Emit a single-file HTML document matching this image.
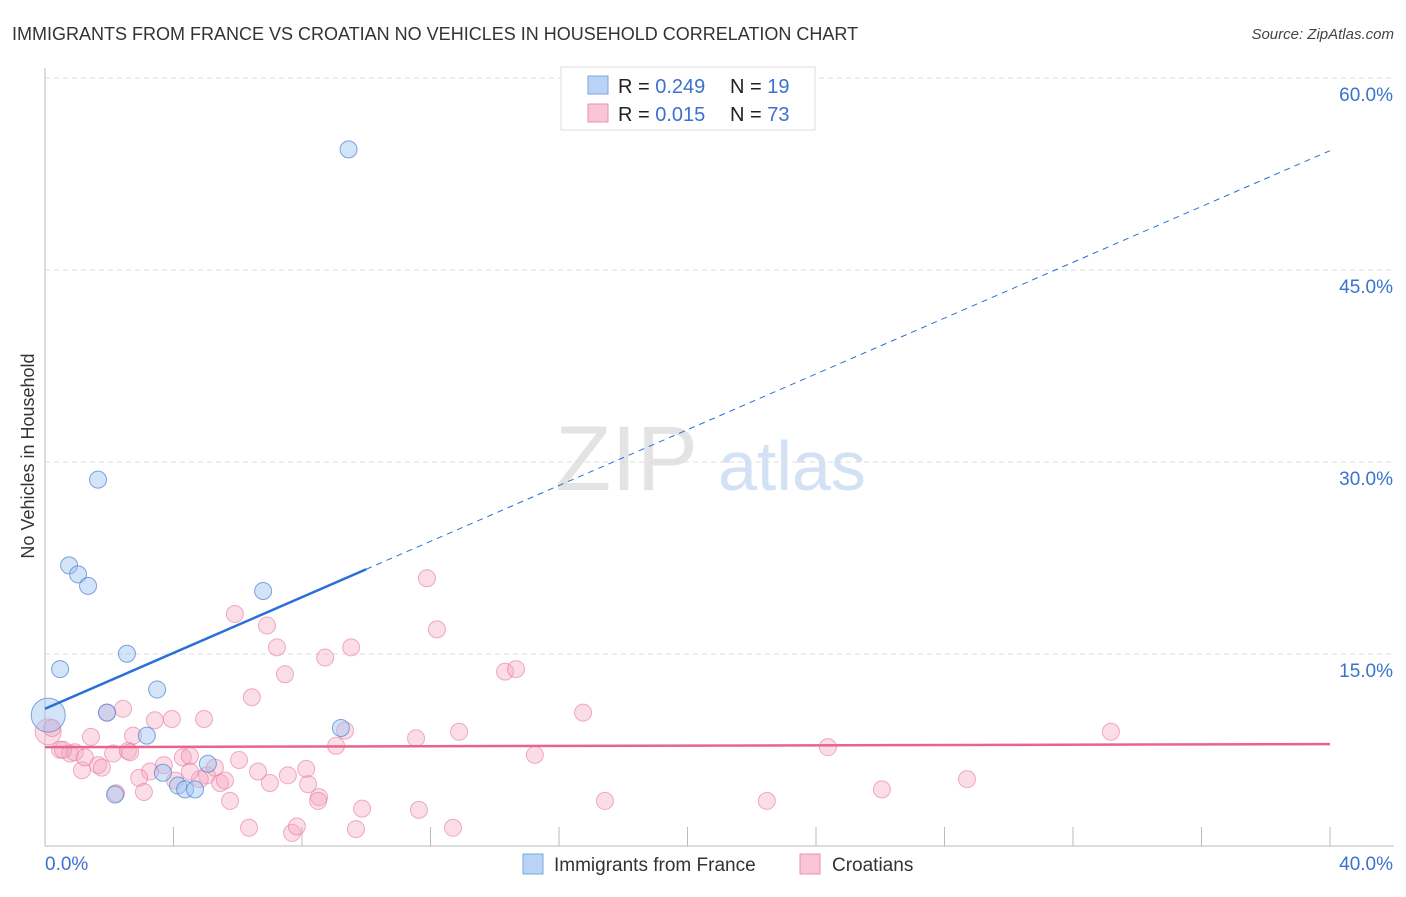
<!DOCTYPE html>
<html><head><meta charset="utf-8">
<style>
body{margin:0;background:#fff;font-family:"Liberation Sans",sans-serif;}
svg text{font-family:"Liberation Sans",sans-serif;}
</style></head>
<body>
<svg id="chart" width="1406" height="892" xmlns="http://www.w3.org/2000/svg">
<text x="12" y="40" font-size="18" fill="#333">IMMIGRANTS FROM FRANCE VS CROATIAN NO VEHICLES IN HOUSEHOLD CORRELATION CHART</text>
<text x="1394" y="39" font-size="15" fill="#444" text-anchor="end" font-style="italic">Source: ZipAtlas.com</text>
<text transform="translate(34,456) rotate(-90)" font-size="18" fill="#333" text-anchor="middle">No Vehicles in Household</text>
<g>
<text x="555" y="490" font-size="92" fill="#ddd" font-family="Liberation Serif" opacity="0.8">ZIP</text>
<text x="718" y="490" font-size="70" fill="#c9daf2" opacity="0.8">atlas</text>
</g>
<g id="grid"></g>
<g id="marks"></g>
<g>
<rect x="561" y="67" width="254" height="63" fill="#fff" stroke="#ddd"/>
<rect x="588" y="76" width="20" height="18" fill="#b9d3f5" stroke="#7aa7e0"/>
<rect x="588" y="104" width="20" height="18" fill="#f9c6d6" stroke="#ec8fae"/>
<text x="618" y="93" font-size="20" fill="#222">R = <tspan fill="#3a72d0">0.249</tspan></text>
<text x="730" y="93" font-size="20" fill="#222">N = <tspan fill="#3a72d0"> 19</tspan></text>
<text x="618" y="121" font-size="20" fill="#222">R = <tspan fill="#3a72d0"> 0.015</tspan></text>
<text x="730" y="121" font-size="20" fill="#222">N = <tspan fill="#3a72d0">73</tspan></text>
</g>
<g>
<rect x="523" y="854" width="20" height="20" fill="#b9d3f5" stroke="#7aa7e0"/>
<text x="554" y="871" font-size="19" fill="#333">Immigrants from France</text>
<rect x="800" y="854" width="20" height="20" fill="#f9c6d6" stroke="#ec8fae"/>
<text x="832" y="871" font-size="19" fill="#333">Croatians</text>
</g>
</svg>
<script>
const yTicks=[15,30,45,60];
const yTickLabels=["15.0%","30.0%","45.0%","60.0%"];
const xTicks=[0,4,8,12,16,20,24,28,32,36,40];
const blueX=[9.45,1.65,0.75,1.03,1.34,6.79,2.55,0.47,3.49,1.93,3.17,9.21,0.1,3.67,4.14,4.36,4.67,5.07,2.18];
const blueY=[54.5,28.7,22.0,21.3,20.4,20.0,15.1,13.9,12.3,10.5,8.7,9.3,10.3,5.8,4.8,4.5,4.5,6.5,4.1];
const pinkX=[11.89,5.91,12.2,6.91,7.22,9.53,8.72,7.47,14.32,14.66,6.44,16.75,2.43,3.42,3.95,4.95,1.93,12.89,9.34,33.18,11.55,9.06,1.43,2.74,24.37,15.25,0.1,0.22,0.47,0.78,0.93,2.12,2.58,1.65,1.15,3.7,4.29,4.51,6.04,3.27,5.04,5.29,6.63,7.56,8.13,5.45,5.6,7.0,2.93,3.08,2.21,8.19,8.53,8.5,5.76,9.87,11.64,17.43,22.47,26.05,28.7,6.35,7.69,7.84,9.68,12.7,4.82,4.05,1.24,1.77,4.51,2.65,0.56];
const pinkY=[21.0,18.2,17.0,17.3,15.6,15.6,14.8,13.5,13.7,13.9,11.7,10.5,10.8,9.9,10.0,10.0,10.5,9.0,9.1,9.0,8.5,7.9,8.6,8.7,7.8,7.2,9.0,9.3,7.6,7.3,7.4,7.3,7.5,6.4,6.0,6.4,7.0,7.1,6.8,5.9,5.6,6.2,5.9,5.6,6.1,5.0,5.2,5.0,5.4,4.3,4.2,4.9,3.9,3.6,3.6,3.0,2.9,3.6,3.6,4.5,5.3,1.5,1.1,1.6,1.4,1.5,5.3,5.2,7.0,6.2,5.9,7.4,7.6];
const blueR=Array(19).fill(8.5);blueR[12]=17;
const pinkR=Array(73).fill(8.5);pinkR[26]=13;
const NS="http://www.w3.org/2000/svg";
const X=v=>45+v/40*1285, Y=v=>847-v*12.8;
const grid=document.getElementById('grid'),marks=document.getElementById('marks');
function mk(tag,attrs,parent){const e=document.createElementNS(NS,tag);for(const k in attrs)e.setAttribute(k,attrs[k]);parent.appendChild(e);return e;}
yTicks.forEach((t,i)=>{
 const l=mk('line',{x1:45,x2:1394,y1:Y(t)-1,y2:Y(t)-1,stroke:'#ddd','stroke-dasharray':'5,4'},grid);
 
 
 const tx=mk('text',{x:1393,y:Y(t)+22,'font-size':19,fill:'#3a72d0','text-anchor':'end'},grid);
 tx.textContent=yTickLabels[i];
 
 
});
const ax=mk('line',{x1:45,x2:1394,y1:846,y2:846,stroke:'#bbb'},grid);


const ay=mk('line',{x1:45,x2:45,y1:68,y2:846,stroke:'#bbb'},grid);


xTicks.forEach(t=>{if(t===0)return;
 const l=mk('line',{x1:X(t),x2:X(t),y1:827,y2:846,stroke:'#bbb'},grid);
 
 
});
[["0.0%",45,'start'],["40.0%",1393,'end']].forEach(d=>{
 const tx=mk('text',{x:d[1],y:870,'font-size':19,fill:'#3a72d0','text-anchor':d[2]},grid);
 tx.textContent=d[0];
 
 
});
pinkX.forEach((v,i)=>{
 const c=mk('circle',{cx:X(v),cy:Y(pinkY[i]),r:pinkR[i],fill:'rgba(246,170,196,0.4)',stroke:'rgba(232,120,160,0.6)','stroke-width':1},marks);
 
 
});
blueX.forEach((v,i)=>{
 const c=mk('circle',{cx:X(v),cy:Y(blueY[i]),r:blueR[i],fill:'rgba(160,196,240,0.45)',stroke:'rgba(70,130,210,0.7)','stroke-width':1},marks);
 
 
});
const bA=10.8,bB=1.09;
let l=mk('line',{x1:X(0),y1:Y(bA),x2:X(10),y2:Y(bA+bB*10),stroke:'#2a6fd6','stroke-width':2.5},marks);


l=mk('line',{x1:X(10),y1:Y(bA+bB*10),x2:X(40),y2:Y(bA+bB*40),stroke:'#2a6fd6','stroke-width':1,'stroke-dasharray':'6,5'},marks);


const pA=7.8,pB=0.006;
l=mk('line',{x1:X(0),y1:Y(pA),x2:X(40),y2:Y(pA+pB*40),stroke:'#e8648f','stroke-width':2.5},marks);


</script>
</body></html>
